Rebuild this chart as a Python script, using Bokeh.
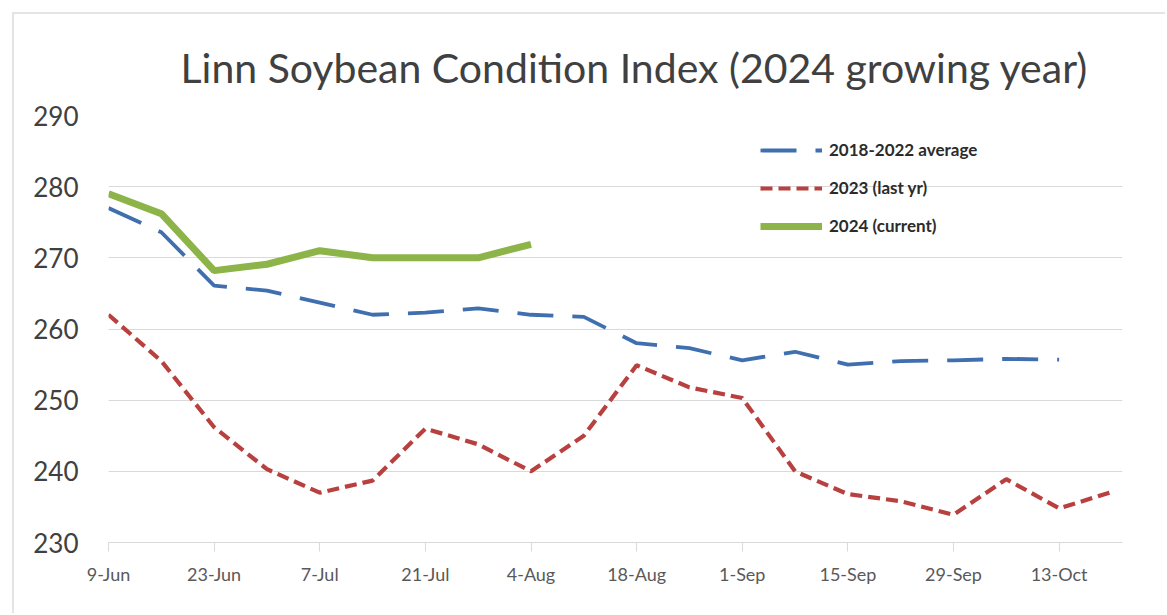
from bokeh.plotting import figure
from bokeh.models import Range1d, FixedTicker, Legend, LegendItem
from bokeh.embed import file_html
from bokeh.resources import INLINE

# ---- data ----
weeks = ["9-Jun", "16-Jun", "23-Jun", "30-Jun", "7-Jul", "14-Jul", "21-Jul", "28-Jul",
         "4-Aug", "11-Aug", "18-Aug", "25-Aug", "1-Sep", "8-Sep", "15-Sep", "22-Sep",
         "29-Sep", "6-Oct", "13-Oct", "20-Oct"]
tick_labels = ["9-Jun", "23-Jun", "7-Jul", "21-Jul", "4-Aug", "18-Aug", "1-Sep",
               "15-Sep", "29-Sep", "13-Oct"]
avg_2018_2022 = [277, 273.6, 266.1, 265.4, 263.7, 262.0, 262.3, 262.9, 262.0, 261.7,
                 258.0, 257.3, 255.6, 256.8, 255.0, 255.5, 255.6, 255.8, 255.7]
last_yr_2023 = [262, 255.5, 246.2, 240.3, 237.0, 238.7, 246.0, 243.8, 240.0, 245.0,
                254.9, 251.8, 250.3, 240.0, 236.8, 235.8, 233.9, 238.9, 234.8, 237.1]
current_2024 = [279, 276.2, 268.2, 269.1, 271.0, 270.0, 270.0, 270.0, 271.9]
y_ticks = [230, 240, 250, 260, 270, 280, 290]

series_names = ["2018-2022 average", "2023 (last yr)", "2024 (current)"]

FONT = "Lato"

p = figure(width=1153, height=601, output_backend="svg", toolbar_location=None,
           x_range=Range1d(0, 19.2), y_range=Range1d(230, 290),
           min_border_left=94, min_border_right=45, min_border_top=101,
           min_border_bottom=73)
p.margin = (12, 0, 0, 12)
p.styles = {"border-left": "2px solid #e4e4e4", "border-top": "2px solid #e4e4e4"}
p.outline_line_color = None
p.background_fill_color = "white"
p.border_fill_color = "white"

# title
p.title.text = "Linn Soybean Condition Index (2024 growing year)"
p.title.text_font = FONT
p.title.text_font_size = "41px"
p.title.text_font_style = "normal"
p.title.text_color = "#404040"
p.title.align = "left"
p.title.standoff = 47
p.title.offset = 72

# axes
xa = p.xaxis[0]
xa.ticker = FixedTicker(ticks=[weeks.index(t) for t in tick_labels])
xa.major_label_overrides = {weeks.index(t): t for t in tick_labels}
xa.axis_line_color = "#d9d9d9"
xa.major_tick_line_color = "#d9d9d9"
xa.major_tick_out = 9
xa.major_tick_in = 0
xa.minor_tick_line_color = None
xa.major_label_text_font = FONT
xa.major_label_text_font_size = "18px"
xa.major_label_text_color = "#595959"
xa.major_label_standoff = 11

ya = p.yaxis[0]
ya.ticker = FixedTicker(ticks=y_ticks)
ya.axis_line_color = None
ya.major_tick_line_color = None
ya.minor_tick_line_color = None
ya.major_tick_out = 0
ya.major_tick_in = 0
ya.major_label_text_font = FONT
ya.major_label_text_font_size = "26px"
ya.major_label_text_color = "#404040"
ya.major_label_standoff = 30

p.xgrid.grid_line_color = None
p.ygrid.ticker = FixedTicker(ticks=y_ticks)
p.ygrid.grid_line_color = "#d9d9d9"
p.ygrid.grid_line_width = 1

# lines
r_avg = p.line(list(range(len(avg_2018_2022))), avg_2018_2022, line_color="#3f6fae",
               line_width=3.8, line_dash="36 19")
r_last = p.line(list(range(len(last_yr_2023))), last_yr_2023, line_color="#b8403f",
                line_width=4.2, line_dash="12 6")
r_cur = p.line(list(range(len(current_2024))), current_2024, line_color="#8cb449",
               line_width=7)

legend = Legend(items=[LegendItem(label=series_names[0], renderers=[r_avg]),
                       LegendItem(label=series_names[1], renderers=[r_last]),
                       LegendItem(label=series_names[2], renderers=[r_cur])],
                location=(652, 306))
legend.background_fill_alpha = 0
legend.border_line_color = None
legend.padding = 0
legend.margin = 0
legend.glyph_width = 62
legend.glyph_height = 20
legend.label_height = 20
legend.spacing = 17
legend.label_standoff = 7
legend.label_text_font = FONT
legend.label_text_font_size = "17px"
legend.label_text_font_style = "bold"
legend.label_text_color = "#2b2b2b"
p.add_layout(legend, "center")

open("out.html", "w").write(file_html(p, INLINE))
